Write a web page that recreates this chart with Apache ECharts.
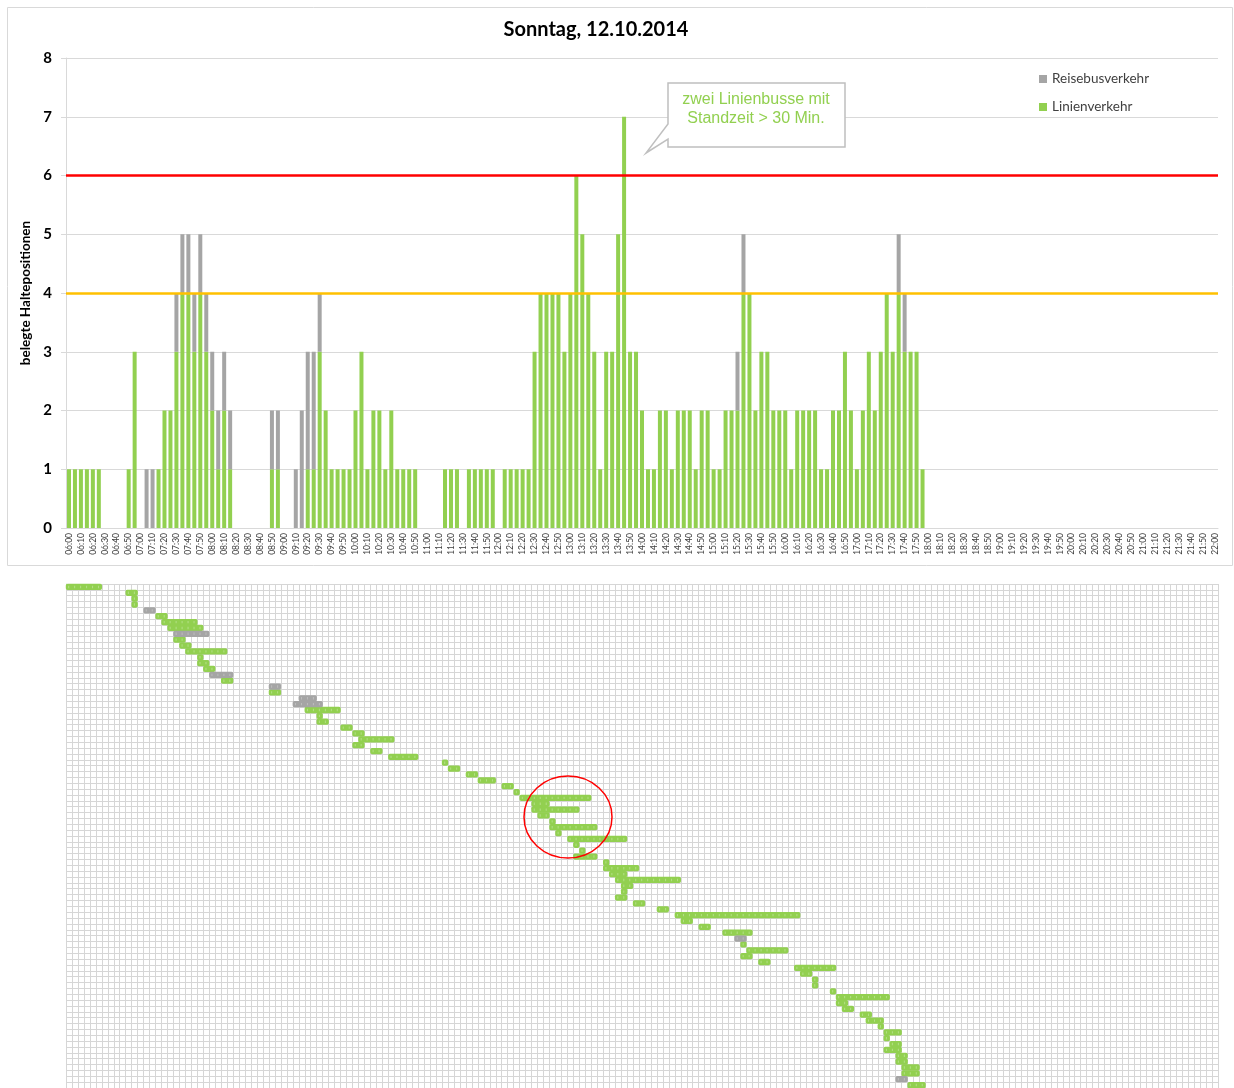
<!DOCTYPE html>
<html>
<head>
<meta charset="utf-8">
<script src="https://cdn.jsdelivr.net/npm/echarts@6/dist/echarts.min.js"></script>
<style>
  html, body { margin: 0; padding: 0; background: #fff; }
  #chart { width: 1234px; height: 1088px; }
</style>
</head>
<body>
<div id="chart"></div>
<script>
// Belegung der Haltepositionen, Sonntag 12.10.2014 (5-Minuten-Raster 06:00 - 22:00)
var times = [];
for (var m = 6 * 60; m <= 22 * 60; m += 5) {
    var hh = Math.floor(m / 60), mm = m % 60;
    times.push((hh < 10 ? '0' : '') + hh + ':' + (mm < 10 ? '0' : '') + mm);
}

// Linienverkehr (gruen), je 5-Minuten-Slot
var linienverkehr = [
    1,1,1,1,1,1,0,0,0,0,
    1,3,0,0,0,1,2,2,3,4,
    4,3,4,3,2,1,2,1,0,0,
    0,0,0,0,1,1,0,0,0,0,
    1,1,3,2,1,1,1,1,2,3,
    1,2,2,1,2,1,1,1,1,0,
    0,0,0,1,1,1,0,1,1,1,
    1,1,0,1,1,1,1,1,3,4,
    4,4,4,3,4,6,5,4,3,1,
    3,3,5,7,3,3,2,1,1,2,
    2,1,2,2,2,1,2,2,1,1,
    2,2,2,4,4,2,3,3,2,2,
    2,1,2,2,2,2,1,1,2,2,
    3,2,1,2,3,2,3,4,3,4,
    3,3,3,1,0,0,0,0,0,0,
    0,0,0,0,0,0,0,0,0,0,
    0,0,0,0,0,0,0,0,0,0,
    0,0,0,0,0,0,0,0,0,0,
    0,0,0,0,0,0,0,0,0,0,
    0,0,0
];

// Reisebusverkehr (grau), je 5-Minuten-Slot
var reisebusverkehr = [
    0,0,0,0,0,0,0,0,0,0,
    0,0,0,1,1,0,0,0,1,1,
    1,1,1,1,1,1,1,1,0,0,
    0,0,0,0,1,1,0,0,1,2,
    2,2,1,0,0,0,0,0,0,0,
    0,0,0,0,0,0,0,0,0,0,
    0,0,0,0,0,0,0,0,0,0,
    0,0,0,0,0,0,0,0,0,0,
    0,0,0,0,0,0,0,0,0,0,
    0,0,0,0,0,0,0,0,0,0,
    0,0,0,0,0,0,0,0,0,0,
    0,0,1,1,0,0,0,0,0,0,
    0,0,0,0,0,0,0,0,0,0,
    0,0,0,0,0,0,0,0,0,1,
    1,0,0,0,0,0,0,0,0,0,
    0,0,0,0,0,0,0,0,0,0,
    0,0,0,0,0,0,0,0,0,0,
    0,0,0,0,0,0,0,0,0,0,
    0,0,0,0,0,0,0,0,0,0,
    0,0,0
];

// Belegungsraster unten: [von Slot, bis Slot, Zeile]
var linienZellen = [
    [0,5,0],[10,11,1],[11,11,2],[11,11,3],[15,16,5],[16,21,6],[17,22,7],[18,19,9],
    [19,20,10],[20,26,11],[22,22,12],[22,23,13],[23,24,14],[26,27,16],[34,35,18],
    [40,45,21],[42,42,22],[42,43,23],[46,47,24],[48,49,25],[49,54,26],[48,49,27],
    [51,52,28],[54,58,29],[63,63,30],[64,65,31],[67,68,32],[69,71,33],[73,74,34],
    [75,75,35],[76,87,36],[78,80,37],[78,85,38],[79,80,39],[81,81,40],[81,88,41],
    [82,82,42],[84,93,43],[85,85,44],[86,86,45],[85,88,46],[90,90,47],[90,95,48],
    [91,93,49],[92,102,50],[93,94,51],[93,93,52],[92,93,53],[95,96,54],[99,100,55],
    [102,122,56],[103,104,57],[106,107,58],[110,114,59],[113,113,61],[114,120,62],
    [113,114,63],[116,117,64],[122,128,65],[123,124,66],[125,125,67],[125,125,68],
    [128,128,69],[129,137,70],[129,130,71],[130,131,72],[133,134,73],[134,136,74],
    [136,136,75],[137,139,76],[137,137,77],[138,139,78],[137,139,79],[139,140,80],
    [139,140,81],[140,142,82],[140,142,83],[141,143,85]
];
var reisebusZellen = [
    [13,14,4],[18,23,8],[24,27,15],[34,35,17],[39,41,19],[38,42,20],[112,113,60],[139,140,84]
];
var rows = [];
for (var r = 0; r < 86; r++) rows.push(String(r));

var GREEN = '#92d050', GREY = '#a5a5a5';
var FONT = 'Lato, "Open Sans", sans-serif';

function cellRenderer(fill, mark) {
    return function (params, api) {
        var a = api.coord([api.value(0), api.value(2)]);
        var b = api.coord([api.value(1), api.value(2)]);
        var size = api.size([1, 1]);
        var w = size[0], h = size[1];
        var children = [{
            type: 'rect',
            shape: { x: a[0] - w / 2 - 0.2, y: a[1] - h / 2 - 0.2, width: b[0] - a[0] + w + 0.4, height: h + 0.4, r: 1.8 },
            style: { fill: fill }
        }];
        for (var c = api.value(0); c <= api.value(1); c++) {
            var p = api.coord([c, api.value(2)]);
            children.push({
                type: 'rect',
                shape: { x: p[0] - 0.8, y: p[1] - 1.2, width: 1, height: 2.4 },
                style: { fill: mark }
            });
        }
        return { type: 'group', children: children };
    };
}

var myChart = echarts.init(document.getElementById('chart'));

var option = {
    animation: false,
    title: {
        text: 'Sonntag, 12.10.2014',
        left: 591,
        top: 15,
        textAlign: 'center',
        textStyle: { fontSize: 20, fontWeight: 'bold', color: '#000', fontFamily: FONT }
    },
    legend: {
        data: ['Reisebusverkehr', 'Linienverkehr'],
        orient: 'vertical',
        left: 1034,
        top: 67,
        itemWidth: 8,
        itemHeight: 8,
        itemGap: 14,
        icon: 'rect',
        textStyle: { fontSize: 13.5, color: '#404040', fontFamily: FONT }
    },
    grid: [
        { left: 66, top: 58, width: 1152, height: 470 },
        { left: 66, top: 584, width: 1152, height: 511.7 }
    ],
    xAxis: [
        {
            type: 'category',
            gridIndex: 0,
            data: times,
            axisLine: { lineStyle: { color: '#d9d9d9' } },
            axisTick: { interval: 0, length: 3, lineStyle: { color: '#d9d9d9' } },
            axisLabel: { interval: 1, rotate: 90, fontSize: 8.5, color: '#404040', margin: 5, fontFamily: FONT }
        },
        {
            type: 'category',
            gridIndex: 1,
            data: times,
            axisLine: { show: true, lineStyle: { color: '#d6d6d6' } },
            axisTick: { show: false },
            axisLabel: { show: false },
            splitLine: { show: true, interval: 0, lineStyle: { color: '#d6d6d6', width: 1 } }
        }
    ],
    yAxis: [
        {
            type: 'value',
            gridIndex: 0,
            min: 0,
            max: 8,
            interval: 1,
            name: 'belegte Haltepositionen',
            nameLocation: 'middle',
            nameGap: 32,
            nameTextStyle: { fontSize: 13.5, fontWeight: 'bold', color: '#000', fontFamily: FONT },
            axisLine: { show: true, lineStyle: { color: '#d9d9d9' } },
            axisTick: { show: true, length: 5, lineStyle: { color: '#d9d9d9' } },
            axisLabel: { fontSize: 15, fontWeight: 'bold', color: '#000', margin: 14, fontFamily: FONT },
            splitLine: { lineStyle: { color: '#d9d9d9' } }
        },
        {
            type: 'category',
            gridIndex: 1,
            data: rows,
            inverse: true,
            axisLine: { show: true, lineStyle: { color: '#d6d6d6' } },
            axisTick: { show: false },
            axisLabel: { show: false },
            splitLine: { show: true, interval: 0, lineStyle: { color: '#d6d6d6', width: 1 } }
        }
    ],
    series: [
        {
            name: 'Linienverkehr',
            type: 'bar',
            stack: 'belegt',
            barWidth: 4,
            xAxisIndex: 0,
            yAxisIndex: 0,
            itemStyle: { color: GREEN },
            data: linienverkehr,
            markLine: {
                silent: true,
                symbol: 'none',
                label: { show: false },
                data: [
                    { yAxis: 6, lineStyle: { color: '#ff0000', width: 2.5, type: 'solid' } },
                    { yAxis: 4, lineStyle: { color: '#ffc000', width: 2.5, type: 'solid' } }
                ]
            }
        },
        {
            name: 'Reisebusverkehr',
            type: 'bar',
            stack: 'belegt',
            barWidth: 4,
            xAxisIndex: 0,
            yAxisIndex: 0,
            itemStyle: { color: GREY },
            data: reisebusverkehr
        },
        {
            name: 'Linien-Raster',
            type: 'custom',
            xAxisIndex: 1,
            yAxisIndex: 1,
            encode: { x: [0, 1], y: 2 },
            renderItem: cellRenderer(GREEN, '#b3df86'),
            data: linienZellen
        },
        {
            name: 'Reisebus-Raster',
            type: 'custom',
            xAxisIndex: 1,
            yAxisIndex: 1,
            encode: { x: [0, 1], y: 2 },
            renderItem: cellRenderer(GREY, '#bdbdbd'),
            data: reisebusZellen
        }
    ],
    graphic: [
        {
            type: 'rect',
            z: 100,
            shape: { x: 7.5, y: 7.5, width: 1225, height: 558 },
            style: { fill: 'none', stroke: '#d9d9d9', lineWidth: 1 }
        },
        {
            type: 'polygon',
            z: 100,
            shape: { points: [[668, 83], [845, 83], [845, 147], [668, 147], [668, 139], [646, 153], [668, 124]] },
            style: { fill: '#fff', stroke: '#bfbfbf', lineWidth: 1.5 }
        },
        {
            type: 'text',
            z: 101,
            x: 756, y: 100,
            style: { text: 'zwei Linienbusse mit', fill: GREEN, font: '16px "Liberation Sans", Arial, sans-serif', align: 'center', verticalAlign: 'middle' }
        },
        {
            type: 'text',
            z: 101,
            x: 756, y: 119,
            style: { text: 'Standzeit > 30 Min.', fill: GREEN, font: '16px "Liberation Sans", Arial, sans-serif', align: 'center', verticalAlign: 'middle' }
        },
        {
            type: 'ellipse',
            z: 100,
            shape: { cx: 568, cy: 817, rx: 44, ry: 41 },
            style: { fill: 'none', stroke: '#ff0000', lineWidth: 1.5 }
        }
    ]
};

myChart.setOption(option);
</script>
</body>
</html>
